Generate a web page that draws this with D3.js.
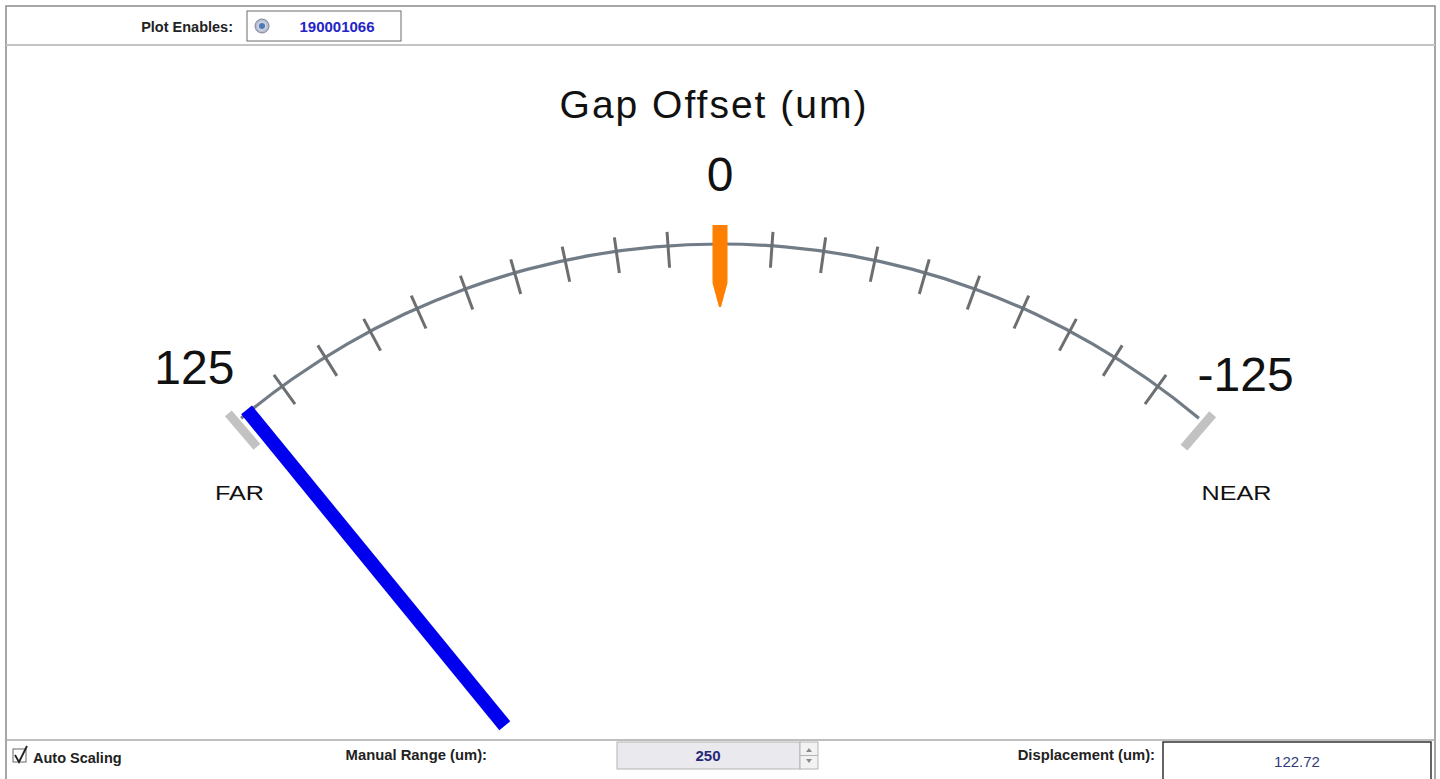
<!DOCTYPE html>
<html>
<head>
<meta charset="utf-8">
<script src="https://cdn.jsdelivr.net/npm/d3@7"></script>
<style>
  body { margin: 0; background: #fff; }
  svg { display: block; font-family: "Liberation Sans", Arial, sans-serif; }
</style>
</head>
<body>
<div class="chart"></div>
<script>
// gauge data
var gaugeRange = [125, -125];
var minorTicks = [112.5, 100, 87.5, 75, 62.5, 50, 37.5, 25, 12.5,
                  -12.5, -25, -37.5, -50, -62.5, -75, -87.5, -100, -112.5];
var endTicks = [125, -125];
var tickLabels = [125, 0, -125];
var endNames = ["FAR", "NEAR"];
var setpoint = 0;
var displacement = 122.72;
var manualRange = 250;
var plotEnable = "190001066";

var svgWidth = 1440;
var svgHeight = 779;

var svg = d3.select(".chart")
  .append("svg")
  .attr("width", svgWidth)
  .attr("height", svgHeight);

// gauge geometry
var cx = 720, cy = 989, R = 745;

// value -> angle in degrees (0 = straight up, clockwise positive)
var angle = d3.scaleLinear()
  .domain(gaugeRange)
  .range([-40, 40]);

function polar(a, r) {
  var t = a * Math.PI / 180;
  return [cx + r * Math.sin(t), cy - r * Math.cos(t)];
}

// ---------- frame ----------
svg.append("rect")
  .attr("x", 6).attr("y", 6)
  .attr("width", 1429).attr("height", 790)
  .attr("fill", "none")
  .attr("stroke", "#8a8a8a")
  .attr("stroke-width", 1.5);

svg.append("line")
  .attr("x1", 6).attr("x2", 1435)
  .attr("y1", 45).attr("y2", 45)
  .attr("stroke", "#c4c4c4").attr("stroke-width", 2);

svg.append("line")
  .attr("x1", 6).attr("x2", 1435)
  .attr("y1", 740).attr("y2", 740)
  .attr("stroke", "#a8a8a8").attr("stroke-width", 1.5);

// ---------- top bar ----------
svg.append("text")
  .attr("x", 233).attr("y", 32)
  .attr("text-anchor", "end")
  .style("font-size", "14.5px")
  .style("font-weight", "bold")
  .attr("fill", "#222")
  .text("Plot Enables:");

svg.append("rect")
  .attr("x", 247).attr("y", 11)
  .attr("width", 154).attr("height", 30)
  .attr("fill", "#fff")
  .attr("stroke", "#6a6a6a").attr("stroke-width", 1);

var radGrad = svg.append("defs").append("radialGradient")
  .attr("id", "radioGrad");
radGrad.append("stop").attr("offset", "0%").attr("stop-color", "#f4f6fb");
radGrad.append("stop").attr("offset", "100%").attr("stop-color", "#a9b3c6");

svg.append("circle")
  .attr("cx", 262).attr("cy", 26).attr("r", 7)
  .attr("fill", "url(#radioGrad)")
  .attr("stroke", "#7d879a").attr("stroke-width", 1);
svg.append("circle")
  .attr("cx", 262).attr("cy", 26).attr("r", 3)
  .attr("fill", "#4f78b8");

svg.append("text")
  .attr("x", 337).attr("y", 32)
  .attr("text-anchor", "middle")
  .style("font-size", "15px")
  .style("font-weight", "bold")
  .attr("fill", "#2424c8")
  .text(plotEnable);

// ---------- gauge ----------
var gauge = svg.append("g")
  .attr("transform", `translate(${cx}, ${cy})`);

gauge.append("text")
  .attr("x", 714 - cx).attr("y", 118 - cy)
  .attr("text-anchor", "middle")
  .style("font-size", "39px")
  .style("letter-spacing", "2px")
  .attr("fill", "#111")
  .text("Gap Offset (um)");

// arc
var arc = d3.arc()
  .innerRadius(R - 1.6)
  .outerRadius(R + 1.6)
  .startAngle(angle(gaugeRange[0]) * Math.PI / 180)
  .endAngle(angle(gaugeRange[1]) * Math.PI / 180);

gauge.append("path")
  .attr("d", arc())
  .attr("fill", "#727c86");

// minor ticks
gauge.selectAll(".minor")
  .data(minorTicks)
  .enter()
  .append("line")
  .attr("class", "minor")
  .attr("transform", d => `rotate(${angle(d)})`)
  .attr("x1", 0).attr("x2", 0)
  .attr("y1", -(R - 22)).attr("y2", -(R + 14))
  .attr("stroke", "#6c6f72")
  .attr("stroke-width", 3);

// setpoint marker (orange)
gauge.append("path")
  .attr("transform", `rotate(${angle(setpoint)})`)
  .attr("d", "M-7.5,-764 L7.5,-764 L7.5,-706 L1,-682 L-1,-682 L-7.5,-706 Z")
  .attr("fill", "#ff8000");

// end stops (grey)
gauge.selectAll(".endstop")
  .data(endTicks)
  .enter()
  .append("line")
  .attr("class", "endstop")
  .attr("transform", d => `rotate(${angle(d) + (d > 0 ? -0.5 : 0.6)})`)
  .attr("x1", 0).attr("x2", 0)
  .attr("y1", -(R - 32)).attr("y2", -(R + 12))
  .attr("stroke", "#c2c2c2")
  .attr("stroke-width", 9);

// displacement needle (blue)
gauge.append("line")
  .attr("transform", `rotate(${angle(displacement)})`)
  .attr("x1", 0).attr("x2", 0)
  .attr("y1", -(R + 3)).attr("y2", -340)
  .attr("stroke", "#0000ee")
  .attr("stroke-width", 14);

// value labels
function labelAngle(d) {
  var a = angle(d);
  return a + (a === 0 ? 0 : Math.sign(a) * 1.2);
}

gauge.selectAll(".tickLabel")
  .data(tickLabels)
  .enter()
  .append("text")
  .attr("class", "tickLabel")
  .attr("x", d => polar(labelAngle(d), 798)[0] - cx)
  .attr("y", d => polar(labelAngle(d), 798)[1] - cy + (d === 0 ? 0 : (d < 0 ? 2 : -5)))
  .attr("text-anchor", "middle")
  .style("font-size", "48px")
  .attr("fill", "#111")
  .text(d => d);

// FAR / NEAR, hung below the arc ends
var nameShift = [-2, 38];
gauge.selectAll(".endName")
  .data(endNames)
  .enter()
  .append("text")
  .attr("class", "endName")
  .attr("transform", (d, i) => {
    var p = polar(angle(endTicks[i]) + (i === 0 ? -4.4 : 4.4), 684);
    return `translate(${p[0] - cx + nameShift[i]}, ${p[1] - cy}) scale(1.2, 1)`;
  })
  .attr("text-anchor", "middle")
  .style("font-size", "21px")
  .attr("fill", "#111")
  .text(d => d);

// ---------- bottom bar ----------
svg.append("rect")
  .attr("x", 13).attr("y", 749)
  .attr("width", 13).attr("height", 13)
  .attr("fill", "#fff")
  .attr("stroke", "#666").attr("stroke-width", 1);
svg.append("path")
  .attr("d", "M15,755 L19,762 L27,746")
  .attr("fill", "none")
  .attr("stroke", "#222").attr("stroke-width", 1.8);

svg.append("text")
  .attr("x", 33).attr("y", 763)
  .style("font-size", "14.5px")
  .style("font-weight", "bold")
  .attr("fill", "#222")
  .text("Auto Scaling");

svg.append("text")
  .attr("x", 487).attr("y", 760)
  .attr("text-anchor", "end")
  .style("font-size", "14.8px")
  .style("font-weight", "bold")
  .attr("fill", "#222")
  .text("Manual Range (um):");

// spinner
svg.append("rect")
  .attr("x", 617).attr("y", 742)
  .attr("width", 183).attr("height", 27)
  .attr("fill", "#e9e9ee")
  .attr("stroke", "#b4b4b4").attr("stroke-width", 1);
svg.append("rect")
  .attr("x", 800).attr("y", 742)
  .attr("width", 18).attr("height", 27)
  .attr("fill", "#f2f2f2")
  .attr("stroke", "#b4b4b4").attr("stroke-width", 1);
svg.append("line")
  .attr("x1", 800).attr("x2", 818)
  .attr("y1", 755.5).attr("y2", 755.5)
  .attr("stroke", "#b4b4b4");
svg.append("path")
  .attr("d", "M806,752 L809,748 L812,752 Z M806,759 L809,763 L812,759 Z")
  .attr("fill", "#8a8a8a");
svg.append("text")
  .attr("x", 708).attr("y", 761)
  .attr("text-anchor", "middle")
  .style("font-size", "15px")
  .style("font-weight", "bold")
  .attr("fill", "#28287a")
  .text(manualRange);

svg.append("text")
  .attr("x", 1155).attr("y", 760)
  .attr("text-anchor", "end")
  .style("font-size", "14.8px")
  .style("font-weight", "bold")
  .attr("fill", "#222")
  .text("Displacement (um):");

svg.append("rect")
  .attr("x", 1163).attr("y", 742)
  .attr("width", 268).attr("height", 45)
  .attr("fill", "#fff")
  .attr("stroke", "#333").attr("stroke-width", 1.5);
svg.append("text")
  .attr("x", 1297).attr("y", 767)
  .attr("text-anchor", "middle")
  .style("font-size", "15px")
  .attr("fill", "#2e3d78")
  .text(displacement.toFixed(2));
</script>
</body>
</html>
